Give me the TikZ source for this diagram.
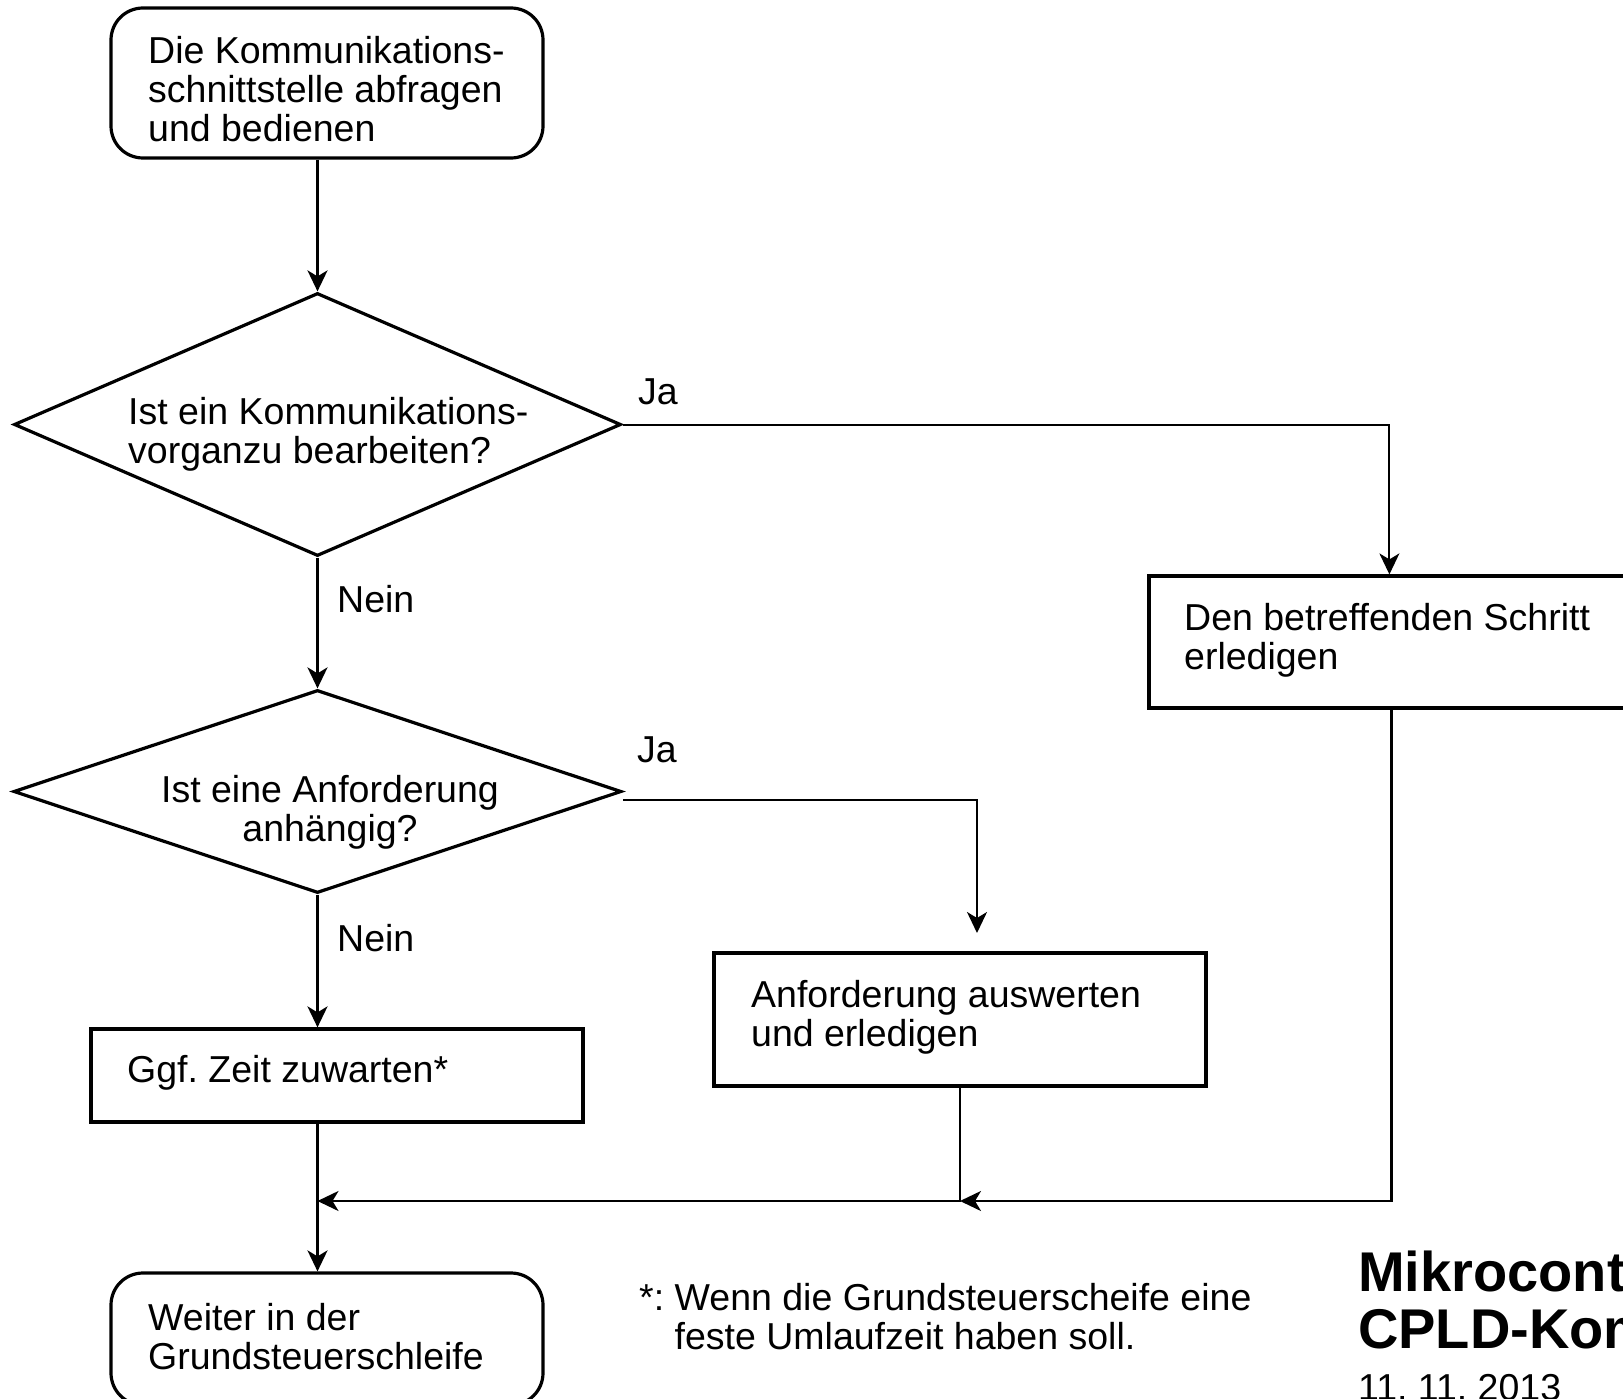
\documentclass[tikz,border=0pt]{standalone}
\usepackage{fontspec}
\setmainfont{Liberation Sans}
\usetikzlibrary{shapes.geometric,arrows.meta,calc}
\frenchspacing
\begin{document}
\begin{tikzpicture}[x=1pt,y=-1pt,
  outline/.style={draw,line width=3.2pt,inner sep=0pt},
  roundbox/.style={outline,rectangle,rounded corners=32pt},
  stepbox/.style={outline,rectangle},
  decision/.style={outline,diamond},
  txt/.style={inner sep=0pt,anchor=base west,font=\fontsize{37.5}{39}\selectfont},
  ctxt/.style={txt,anchor=base},
  tip/.style={-{Stealth[length=21pt,width=20pt,inset=6pt]}},
  flow/.style={line width=2.8pt,tip},
  thinflow/.style={line width=2pt,tip},
  joinflow/.style={line width=2.4pt,tip},
]
\useasboundingbox (0,0) rectangle (1623,1399);
\clip (0,0) rectangle (1623,1399);
\fill[white] (0,0) rectangle (1623,1399);

% shapes
\node[roundbox,minimum width=432pt,minimum height=150pt] (start) at (327,83) {};
\node[decision,minimum width=607pt,minimum height=263pt] (q1) at (317.5,424.5) {};
\node[decision,minimum width=608pt,minimum height=203pt] (q2) at (317.5,791.5) {};
\node[stepbox,minimum width=560pt,minimum height=132pt] (step) at (1429,642) {};
\node[stepbox,minimum width=492pt,minimum height=133pt] (ausw) at (960,1019.5) {};
\node[stepbox,minimum width=492pt,minimum height=93pt] (wait) at (337,1075.5) {};
\node[roundbox,minimum width=432pt,minimum height=132pt] (cont) at (327,1339) {};

% texts
\node[txt] (start-t) at (148,64) {\begin{tabular}[t]{@{}l@{}}Die Kommunikations-\\schnittstelle abfragen\\und bedienen\end{tabular}};
\node[txt] (q1-t) at (128,424) {\begin{tabular}[t]{@{}l@{}}Ist ein Kommunikations-\\vorganzu bearbeiten?\end{tabular}};
\node[ctxt] (q2-t) at (330,802) {\begin{tabular}[t]{@{}c@{}}Ist eine Anforderung\\anhängig?\end{tabular}};
\node[txt] (step-t) at (1184,630) {\begin{tabular}[t]{@{}l@{}}Den betreffenden Schritt\\erledigen\end{tabular}};
\node[txt] (ausw-t) at (751,1007) {\begin{tabular}[t]{@{}l@{}}Anforderung auswerten\\und erledigen\end{tabular}};
\node[txt] (wait-t) at (127,1082) {Ggf. Zeit zuwarten*};
\node[txt] (cont-t) at (148,1330) {\begin{tabular}[t]{@{}l@{}}Weiter in der\\Grundsteuerschleife\end{tabular}};

% branch labels
\node[txt] (ja1) at (638,404) {Ja};
\node[txt] (nein1) at (337,612) {Nein};
\node[txt] (ja2) at (637,762) {Ja};
\node[txt] (nein2) at (337,951) {Nein};

% footnote and title block
\node[txt] (note) at (639,1310) {\begin{tabular}[t]{@{}l@{\hspace{10.5pt}}l@{}}*:&Wenn die Grundsteuerscheife eine\\&feste Umlaufzeit haben soll.\end{tabular}};
\node[inner sep=0pt,anchor=base west,font=\fontsize{56}{57}\selectfont\bfseries] (title) at (1358,1291)
  {\begin{tabular}[t]{@{}l@{}}Mikrocontroller-\\CPLD-Kombination\end{tabular}};
\node[txt] (date) at (1358,1400) {11. 11. 2013};

% connectors
\coordinate (q2ja) at (977,933);
\coordinate (join) at (960,1201);
\draw[flow] (start.south -| q1.north) -- (q1.north);
\draw[flow] (q1.south) -- (q2.north);
\draw[thinflow] (q1.east) -| ([xshift=242pt]step.north west);
\draw[thinflow] ([yshift=-8pt]q2.east) -| (q2ja);
\draw[flow] (q2.south) -- (wait.north -| q2.south);
\draw[flow] (wait.south -| q1.south) -- (cont.north -| q1.south);
\draw[joinflow] ([xshift=244pt]step.south west) |- (join);
\draw[joinflow] (ausw.south) |- (join -| q1.south);
\end{tikzpicture}
\end{document}
